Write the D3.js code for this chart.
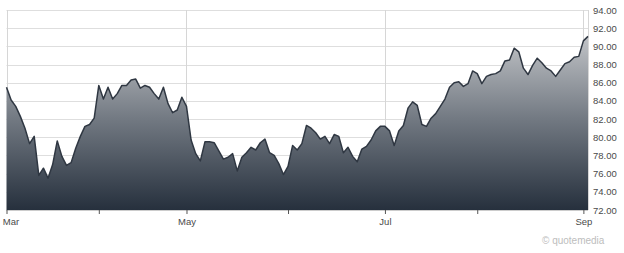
<!DOCTYPE html>
<html>
<head>
<meta charset="utf-8">
<script src="https://cdn.jsdelivr.net/npm/d3@7"></script>
<style>
  body { margin: 0; background: #fff; }
  svg { display: block; }
  text { font-family: "Liberation Sans", Arial, sans-serif; }
</style>
</head>
<body>
<div id="chart"></div>
<script>
// Daily closes, one per trading day, Mar -> early Sep
const prices = [
  85.5, 84.1, 83.4, 82.3, 81.0, 79.3, 80.1, 75.8, 76.6, 75.5,
  77.0, 79.6, 77.9, 76.9, 77.2, 78.8, 80.1, 81.2, 81.4, 82.1,
  85.7, 84.2, 85.5, 84.2, 84.8, 85.7, 85.7, 86.3, 86.4, 85.4,
  85.7, 85.5, 84.8, 84.2, 85.5, 83.7, 82.7, 83.0, 84.4, 83.4,
  79.7, 78.2, 77.4, 79.5, 79.5, 79.4, 78.5, 77.6, 77.8, 78.2,
  76.3, 77.8, 78.3, 78.9, 78.6, 79.4, 79.8, 78.3, 78.0, 77.1,
  75.9, 76.8, 79.1, 78.6, 79.3, 81.3, 81.0, 80.5, 79.8, 80.1,
  79.3, 80.3, 80.1, 78.3, 78.9, 77.9, 77.3, 78.7, 79.0, 79.7,
  80.7, 81.2, 81.2, 80.7, 79.1, 80.7, 81.3, 83.2, 83.9, 83.5,
  81.4, 81.2, 82.1, 82.6, 83.4, 84.2, 85.5, 86.0, 86.1, 85.6,
  85.9, 87.3, 87.0, 85.9, 86.7, 86.9, 87.0, 87.3, 88.4, 88.5,
  89.8, 89.4, 87.6, 86.9, 87.9, 88.7, 88.2, 87.6, 87.3, 86.7,
  87.4, 88.1, 88.3, 88.8, 88.9, 90.6, 91.1
];
// index of the first trading day of each month
const monthStarts = [0, 20, 39, 61, 82, 102, 125];
const monthLabels = ["Mar", "", "May", "", "Jul", "", "Sep"];
const yTicks = [72, 74, 76, 78, 80, 82, 84, 86, 88, 90, 92, 94];

const W = 624, H = 253;
const plot = { left: 6.5, right: 588, top: 10, bottom: 210 };

const svg = d3.select("#chart").append("svg")
  .attr("width", W).attr("height", H);

const x = d3.scaleLinear().domain([0, prices.length - 1]).range([plot.left, plot.right]);
const y = d3.scaleLinear().domain([72, 94]).range([plot.bottom, plot.top]);

// Gradient fill
const grad = svg.append("defs").append("linearGradient")
  .attr("id", "fill")
  .attr("gradientUnits", "userSpaceOnUse")
  .attr("x1", 0).attr("x2", 0)
  .attr("y1", y(92)).attr("y2", plot.bottom);
grad.append("stop").attr("offset", "0%").attr("stop-color", "#c9cbce");
grad.append("stop").attr("offset", "50%").attr("stop-color", "#727982");
grad.append("stop").attr("offset", "100%").attr("stop-color", "#26303d");

// Horizontal grid
svg.append("g")
  .selectAll("line")
  .data(yTicks)
  .join("line")
  .attr("x1", plot.left).attr("x2", plot.right)
  .attr("y1", d => Math.round(y(d)) + 0.5)
  .attr("y2", d => Math.round(y(d)) + 0.5)
  .attr("stroke", "#dedede");

// Vertical grid at labelled months + borders
const vlines = monthStarts.filter((d, i) => monthLabels[i]).map(d => x(d));
vlines.push(plot.right);
svg.append("g")
  .selectAll("line")
  .data(vlines)
  .join("line")
  .attr("x1", d => Math.round(d) + 0.5).attr("x2", d => Math.round(d) + 0.5)
  .attr("y1", plot.top).attr("y2", plot.bottom)
  .attr("stroke", "#d6d6d6");

// Area + line
const area = d3.area()
  .x((d, i) => x(i))
  .y0(plot.bottom)
  .y1(d => y(d));
const line = d3.line()
  .x((d, i) => x(i))
  .y(d => y(d));

svg.append("path")
  .datum(prices)
  .attr("d", area)
  .attr("fill", "url(#fill)");

svg.append("path")
  .datum(prices)
  .attr("d", line)
  .attr("fill", "none")
  .attr("stroke", "#2f3742")
  .attr("stroke-width", 1.5)
  .attr("stroke-linejoin", "round");

// X axis
const xAxis = svg.append("g")
  .attr("transform", `translate(0,${plot.bottom})`)
  .call(d3.axisBottom(x)
    .tickValues(monthStarts)
    .tickSize(4)
    .tickPadding(4)
    .tickFormat((d, i) => monthLabels[i]));
xAxis.select(".domain")
  .attr("d", `M${plot.left},0.5H${plot.right}`)
  .attr("stroke", "#cccccc");
xAxis.selectAll(".tick line").attr("stroke", "#555");
xAxis.selectAll(".tick text")
  .attr("fill", "#4a4a4a")
  .attr("font-size", "9.5px")
  .attr("font-family", "Liberation Sans, Arial, sans-serif");
xAxis.select(".tick text").attr("dx", "4px");

// Y axis labels (right)
const yAxis = svg.append("g")
  .attr("transform", `translate(${plot.right},0)`)
  .call(d3.axisRight(y)
    .tickValues(yTicks)
    .tickSize(0)
    .tickPadding(5)
    .tickFormat(d3.format(".2f")));
yAxis.select(".domain").remove();
yAxis.selectAll(".tick text")
  .attr("fill", "#4a4a4a")
  .attr("font-size", "9.5px")
  .attr("font-family", "Liberation Sans, Arial, sans-serif");

// Watermark
svg.append("text")
  .attr("x", 542).attr("y", 244)
  .attr("fill", "#bdbdbd")
  .attr("font-size", "10px")
  .text("\u00a9 quotemedia");
</script>
</body>
</html>
